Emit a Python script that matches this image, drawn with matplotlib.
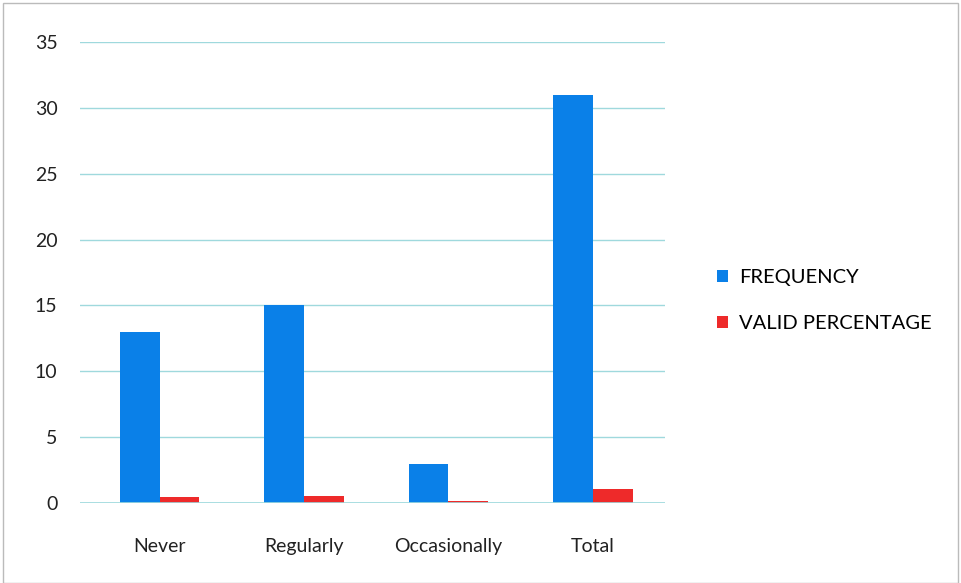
import matplotlib.pyplot as plt
import numpy as np
from matplotlib.patches import Rectangle

categories = ['Never', 'Regularly', 'Occasionally', 'Total']
frequency = [13, 15, 3, 31]
valid_percentage = [0.45, 0.55, 0.15, 1.1]
yticks = [0, 5, 10, 15, 20, 25, 30, 35]

plt.rcParams['font.family'] = ['Lato', 'DejaVu Sans']

fig = plt.figure(figsize=(9.61, 5.83), dpi=100)
ax = fig.add_axes([0.083, 0.137, 0.609, 0.791])

x = np.arange(len(categories))
w = 0.275
ax.bar(x - w / 2, frequency, w, color='#0a80e8', label='FREQUENCY')
ax.bar(x + w / 2, valid_percentage, w, color='#ee2a2a', label='VALID PERCENTAGE')

ax.set_xlim(-0.553, 3.5)
ax.set_ylim(0, 35)
ax.set_yticks(yticks)
ax.set_xticks(x)
ax.set_xticklabels(categories, fontsize=14, color='#222222')
ax.tick_params(axis='y', labelsize=14, colors='#222222', length=0, pad=16)
ax.tick_params(axis='x', length=0, pad=25)
ax.yaxis.grid(True, color='#9fd9dd', linewidth=1)
ax.set_axisbelow(True)
for s in ax.spines.values():
    s.set_visible(False)
ax.axhline(0, color='#9fd9dd', linewidth=1.2)

fig.legend(loc='upper left', bbox_to_anchor=(0.727, 0.57), frameon=False,
           fontsize=14.5, handlelength=0.55, handleheight=0.55, handletextpad=0.55,
           labelspacing=1.45)

fig.patches.append(Rectangle((0.003, 0.0), 0.994, 0.995, transform=fig.transFigure,
                             fill=False, edgecolor='#bbbbbb', linewidth=1))

fig.savefig('out.png', dpi=100)
